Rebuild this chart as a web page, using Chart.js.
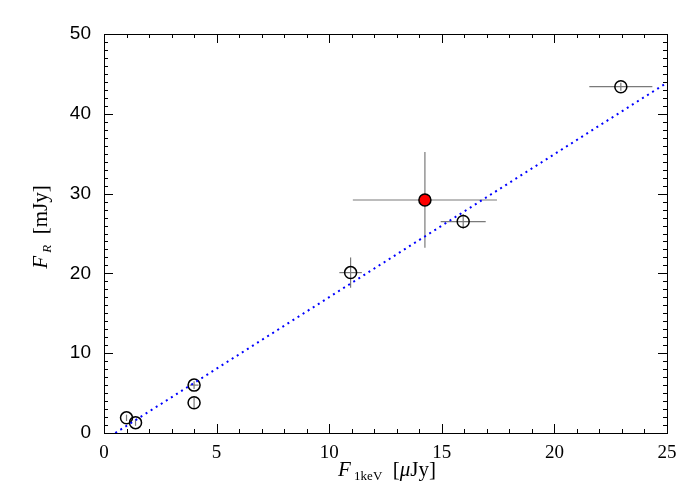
<!DOCTYPE html>
<html><head><meta charset="utf-8">
<script src="https://cdn.jsdelivr.net/npm/chart.js@4/dist/chart.umd.min.js"></script>
<style>html,body{margin:0;padding:0;background:#fff}canvas{display:block}</style>
</head><body>
<canvas id="c" width="700" height="500"></canvas>
<script>
// Data
const xVals  = [1.0, 1.4, 4.0, 4.0, 10.95, 15.95, 22.95];
const yVals  = [1.9, 1.3, 6.0, 3.8, 20.1, 26.5, 43.4];
const xErr   = [0.0, 0.0, 0.2, 0.0, 0.5, 1.0, 1.4];
const yErr   = [0.4, 0.4, 0.5, 0.7, 1.9, 0.9, 0.5];
const redX   = [14.25];
const redY   = [29.2];
const redXErr = [3.2];
const redYErr = [6.0];
const fitX   = [0.5, 25];
const fitY   = [0, 43.9];
const xTicks = [0, 5, 10, 15, 20, 25];
const yTicks = [0, 10, 20, 30, 40, 50];

const serif = '"Liberation Serif", "DejaVu Serif", serif';
const sans = '"Liberation Sans", Arial, sans-serif';

const frame = {
  id: 'frame',
  beforeDatasetsDraw(chart) {
    const {ctx, scales: {x, y}} = chart;
    ctx.save();
    ctx.lineWidth = 1.2;
    const bar = (xs, ys, xe, ye, col) => {
      for (let i = 0; i < xs.length; i++) {
        ctx.strokeStyle = col;
        if (xe[i] > 0) {
          ctx.beginPath();
          ctx.moveTo(x.getPixelForValue(xs[i] - xe[i]), y.getPixelForValue(ys[i]));
          ctx.lineTo(x.getPixelForValue(xs[i] + xe[i]), y.getPixelForValue(ys[i]));
          ctx.stroke();
        }
        if (ye[i] > 0) {
          ctx.beginPath();
          ctx.moveTo(x.getPixelForValue(xs[i]), y.getPixelForValue(ys[i] - ye[i]));
          ctx.lineTo(x.getPixelForValue(xs[i]), y.getPixelForValue(ys[i] + ye[i]));
          ctx.stroke();
        }
      }
    };
    bar(xVals, yVals, xErr, yErr, '#7a7a7a');
    bar(redX, redY, redXErr, redYErr, '#7a7a7a');
    ctx.restore();
  },
  afterDraw(chart) {
    const {ctx, chartArea: a, scales: {x, y}} = chart;
    ctx.save();
    ctx.strokeStyle = '#000';
    ctx.lineWidth = 1;
    ctx.strokeRect(Math.round(a.left) + 0.5, Math.round(a.top) + 0.5,
      Math.round(a.right - a.left), Math.round(a.bottom - a.top));
    ctx.beginPath();
    for (let v = x.min; v <= x.max + 1e-9; v += 1) {
      const px = Math.round(x.getPixelForValue(v)) + 0.5;
      const len = (v % 5 === 0) ? 9 : 4;
      ctx.moveTo(px, a.bottom); ctx.lineTo(px, a.bottom - len);
      ctx.moveTo(px, a.top); ctx.lineTo(px, a.top + len);
    }
    for (let v = y.min; v <= y.max + 1e-9; v += 1) {
      const py = Math.round(y.getPixelForValue(v)) + 0.5;
      const len = (v % 10 === 0) ? 9 : 4;
      ctx.moveTo(a.left, py); ctx.lineTo(a.left + len, py);
      ctx.moveTo(a.right, py); ctx.lineTo(a.right - len, py);
    }
    ctx.stroke();

    // axis titles
    ctx.fillStyle = '#000';
    ctx.textBaseline = 'alphabetic';
    const drawSegs = (segs, cx, by) => {
      let w = 0;
      segs.forEach(s => { ctx.font = s.f; w += ctx.measureText(s.t).width; });
      let xx = cx - w / 2;
      segs.forEach(s => { ctx.font = s.f; ctx.fillText(s.t, xx, by + s.dy); xx += ctx.measureText(s.t).width; });
    };
    const segsX = [
      {t: 'F', f: 'italic 21px ' + serif, dy: 0},
      {t: ' 1keV', f: '13px ' + serif, dy: 4},
      {t: '  [', f: '21px ' + serif, dy: 0},
      {t: 'μ', f: 'italic 21px ' + serif, dy: 0},
      {t: 'Jy]', f: '21px ' + serif, dy: 0}
    ];
    drawSegs(segsX, 387, 476);
    ctx.save();
    ctx.translate(47, 227);
    ctx.rotate(-Math.PI / 2);
    const segsY = [
      {t: 'F', f: 'italic 21px ' + serif, dy: 0},
      {t: ' R', f: 'italic 13px ' + serif, dy: 4},
      {t: '  [mJy]', f: '21px ' + serif, dy: 0}
    ];
    drawSegs(segsY, 0, 0);
    ctx.restore();
    ctx.restore();
  }
};

new Chart(document.getElementById('c'), {
  type: 'scatter',
  data: {
    datasets: [
      {
        type: 'line',
        data: fitX.map((v, i) => ({x: v, y: fitY[i]})),
        borderColor: '#0000ff',
        borderWidth: 2,
        borderDash: [2, 4],
        pointRadius: 0,
        fill: false
      },
      {
        data: xVals.map((v, i) => ({x: v, y: yVals[i]})),
        pointRadius: 6,
        pointBorderWidth: 1.5,
        pointBorderColor: '#000',
        pointBackgroundColor: 'rgba(0,0,0,0)'
      },
      {
        data: redX.map((v, i) => ({x: v, y: redY[i]})),
        pointRadius: 6,
        pointBorderWidth: 1.5,
        pointBorderColor: '#000',
        pointBackgroundColor: '#ff0000'
      }
    ]
  },
  options: {
    responsive: false,
    animation: false,
    layout: {padding: {top: 34, right: 33, left: 0, bottom: 0}},
    plugins: {legend: {display: false}, tooltip: {enabled: false}},
    scales: {
      x: {
        type: 'linear', min: 0, max: 25,
        grid: {display: false}, border: {display: false},
        afterBuildTicks: s => { s.ticks = xTicks.map(v => ({value: v})); },
        afterFit: s => { s.height = 67; },
        ticks: {color: '#000', padding: 1, font: {family: serif, size: 19}}
      },
      y: {
        type: 'linear', min: 0, max: 50,
        grid: {display: false}, border: {display: false},
        afterBuildTicks: s => { s.ticks = yTicks.map(v => ({value: v})); },
        afterFit: s => { s.width = 104; },
        ticks: {color: '#000', padding: 5, font: {family: sans, size: 19}}
      }
    }
  },
  plugins: [frame]
});
</script>
</body></html>
